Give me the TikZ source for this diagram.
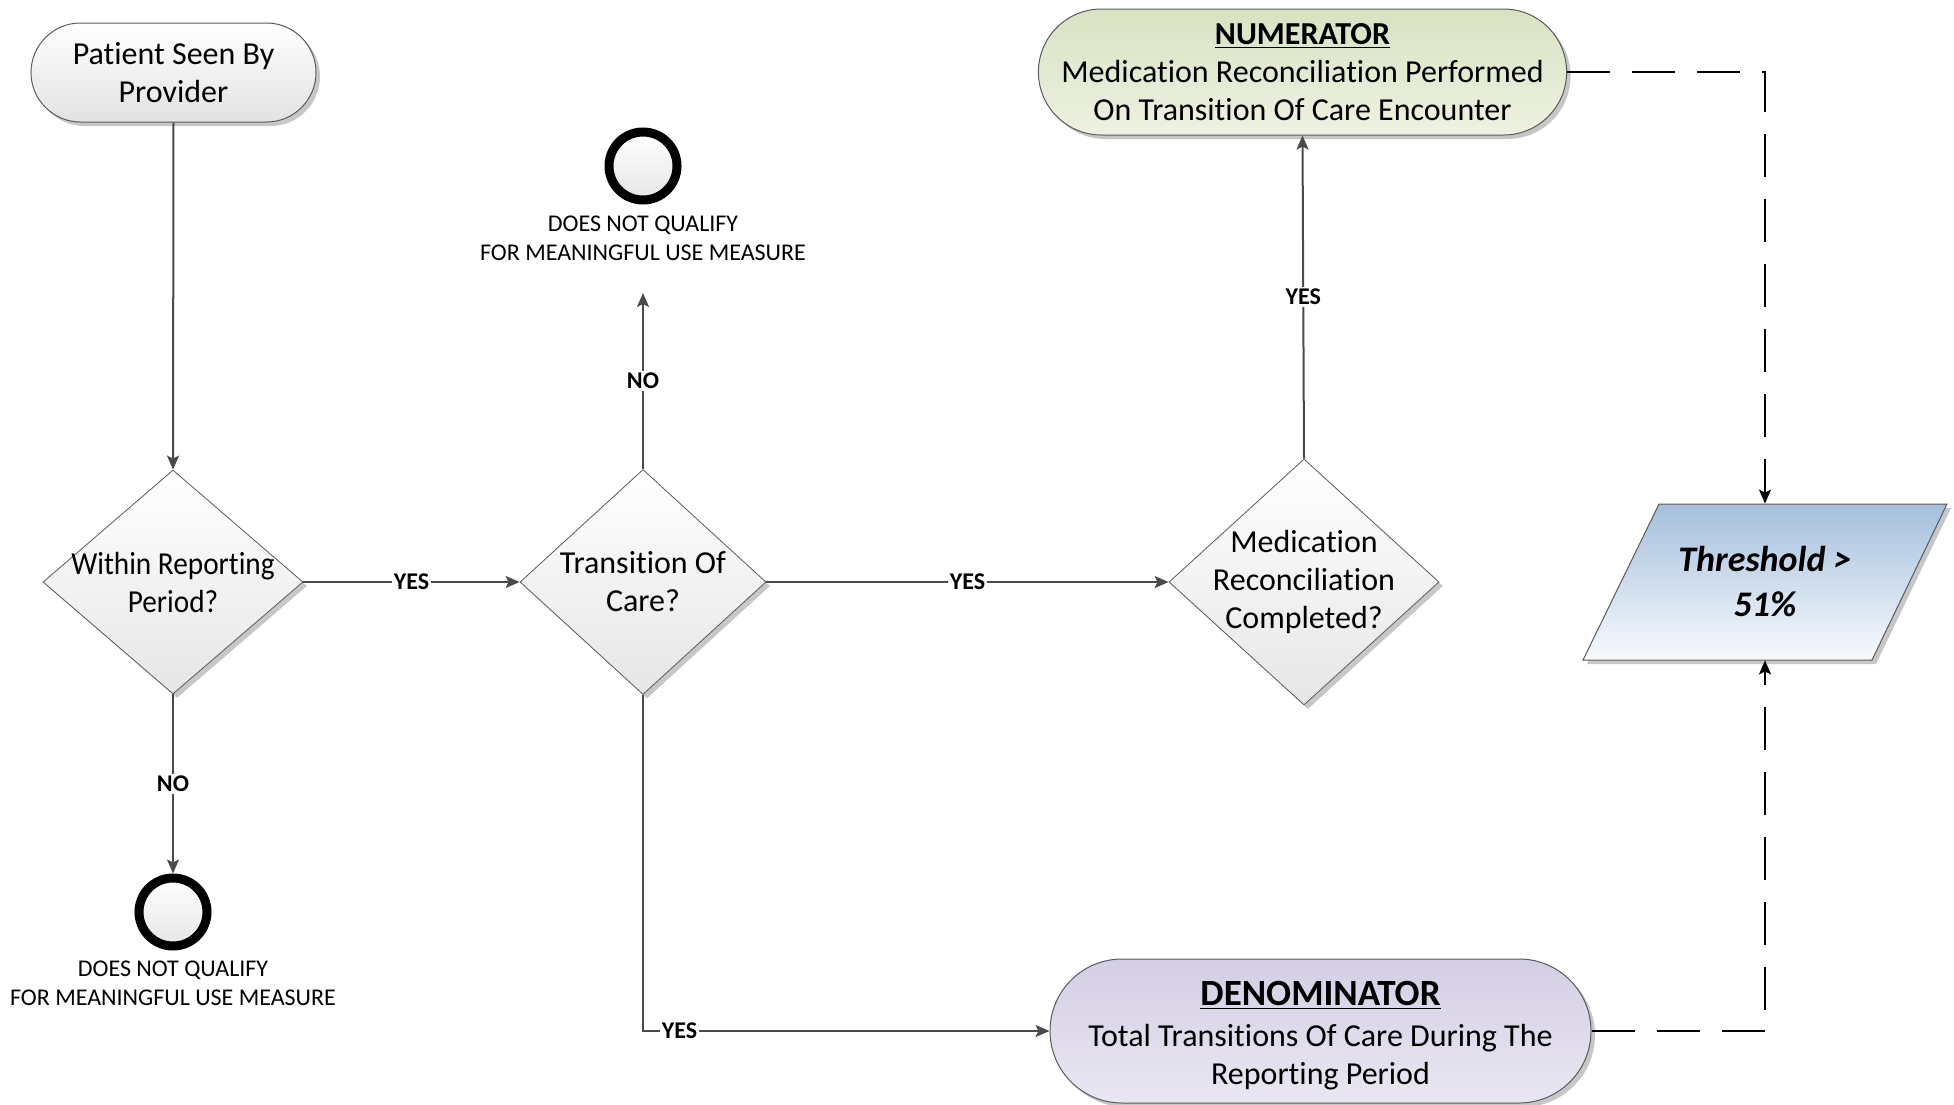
\documentclass[tikz,border=0pt]{standalone}
\usepackage{fontspec}
\setmainfont{Carlito}[Ligatures=CommonOff]
\usetikzlibrary{arrows.meta,shapes.geometric,shapes.misc,shadows,calc}
\definecolor{cgray}{HTML}{4A4A4A}
\definecolor{bgray}{HTML}{5A5A5A}
\definecolor{startbot}{RGB}{226,226,226}
\definecolor{numtop}{RGB}{216,226,194}
\definecolor{numbot}{RGB}{238,242,226}
\definecolor{dentop}{RGB}{212,206,228}
\definecolor{denbot}{RGB}{234,231,242}
\definecolor{thtop}{RGB}{164,192,220}
\definecolor{thbot}{RGB}{248,250,253}
\definecolor{diabot}{RGB}{230,230,230}
\tikzset{
  shad/.style={drop shadow={shadow xshift=2pt, shadow yshift=-2pt, opacity=0.22, fill=black}},
  term/.style={rounded rectangle, draw=bgray, line width=0.5pt, inner sep=0pt, shad, align=center,
    font=\fontsize{16}{19}\selectfont},
  dia/.style={diamond, draw=bgray, line width=0.4pt, inner sep=0pt, top color=white, bottom color=diabot, shad},
  diatxt/.style={align=center, inner sep=0pt, font=\fontsize{16}{19}\selectfont},
  endc/.style={circle, draw=black, line width=4.5pt, minimum size=34pt, inner sep=0pt, top color=white, bottom color=diabot},
  endtxt/.style={align=center, inner sep=0pt, font=\fontsize{12}{14.3}\selectfont},
  lbl/.style={fill=white, inner sep=1pt, font=\fontsize{12}{14}\selectfont\bfseries},
  conn/.style={draw=cgray, line width=1pt, -{Stealth[length=7pt,width=6pt,inset=1.5pt]}},
  dconn/.style={draw=black, line width=1pt, dash pattern=on 21.5pt off 11pt, -{Stealth[length=7pt,width=6pt,inset=1.5pt]}}
}
\begin{document}
\begin{tikzpicture}[x=1pt,y=-1pt]
\useasboundingbox (0,0) rectangle (977,552);

% start
\node[term, minimum width=142.5pt, minimum height=49.5pt, top color=white, bottom color=startbot]
  (start) at (86.75,36.25) {Patient Seen By\\Provider};

% diamonds
\node[dia, minimum width=130pt, minimum height=112pt] (d1) at (86.5,291) {};
\node[diatxt] (d1t) at (86.5,291) {\scalebox{0.915}[1]{Within Reporting}\\\scalebox{0.915}[1]{Period?}};
\node[dia, minimum width=123pt, minimum height=112.5pt] (d2) at (321.5,291) {};
\node[diatxt] (d2t) at (321.5,291) {Transition Of\\Care?};
\node[dia, minimum width=135pt, minimum height=123pt] (d3) at (652,291) {};
\node[diatxt] (d3t) at (652,291) {Medication\\Reconciliation\\Completed?};

% end circles
\node[endc] (c1) at (86.5,456) {};
\node[endtxt] (c1t) at (86.5,491.5) {DOES NOT QUALIFY\\FOR MEANINGFUL USE MEASURE};
\node[endc] (c2) at (321.5,83) {};
\node[endtxt] (c2t) at (321.5,119) {DOES NOT QUALIFY\\FOR MEANINGFUL USE MEASURE};
\coordinate (c2in) at (321.5,146.5);

% numerator / denominator
\node[term, minimum width=258.5pt, minimum height=63pt, top color=numtop, bottom color=numbot]
  (num) at (651.25,36) {{\bfseries\underline{NUMERATOR}}\\Medication Reconciliation Performed\\On Transition Of Care Encounter};
\node[term, minimum width=270.5pt, minimum height=72pt, top color=dentop, bottom color=denbot]
  (den) at (660.25,515.5) {};
\node[align=center, inner sep=0pt, font=\fontsize{16}{19}\selectfont] (dent) at (660.25,517.6)
  {{\fontsize{18.5}{21}\selectfont\bfseries\underline{DENOMINATOR}}\\[1.5pt]Total Transitions Of Care During The\\Reporting Period};

% threshold parallelogram
\fill[black, opacity=0.22] (831.5,254) -- (975.5,254) -- (938,332) -- (793.5,332) -- cycle;
\shade[top color=thtop, bottom color=thbot, draw=bgray, line width=0.5pt]
  (829.5,252) -- (973.5,252) -- (936,330) -- (791.5,330) -- cycle;
\node[align=center, inner sep=0pt, minimum height=78pt, minimum width=100pt,
  font=\fontsize{18}{22.5}\selectfont\bfseries\itshape] (th) at (882.5,291) {Threshold >\\51\%};

% connectors
\draw[conn] (start.south) -- (d1.north);
\draw[conn] (d1.south) -- node[lbl] {NO} (c1.north);
\draw[conn] (d1.east) -- node[lbl] {YES} (d2.west);
\draw[conn] (d2.north) -- node[lbl] {NO} (c2in);
\draw[conn] (d2.east) -- node[lbl] {YES} (d3.west);
\draw[conn] (d3.north) -- node[lbl] {YES} (num.south);
\draw[conn] (d2.south) |- node[lbl, pos=0.545] {YES} (den.west);
\draw[dconn] (num.east) -| (th.north);
\draw[dconn] (den.east) -| (th.south);
\end{tikzpicture}
\end{document}
